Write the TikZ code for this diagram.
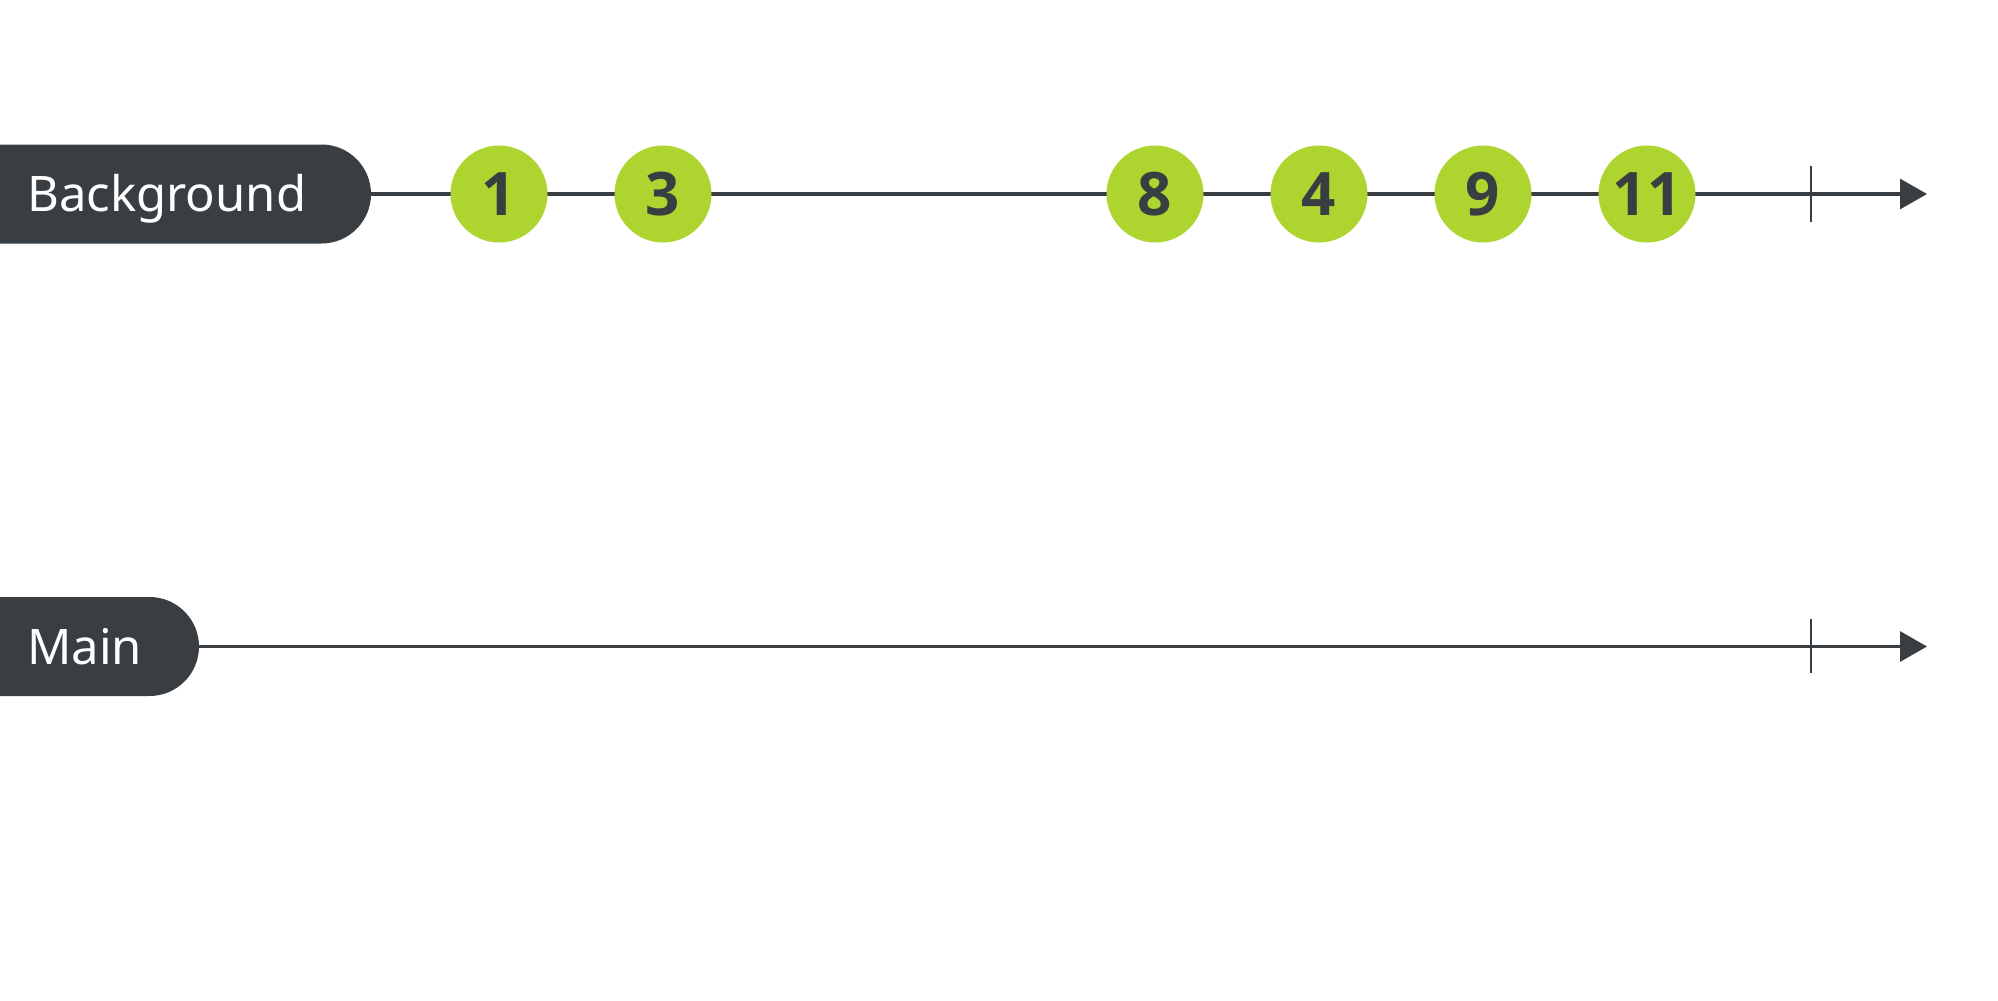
\documentclass[tikz,border=0pt]{standalone}
\usepackage{fontspec}
\setmainfont{Noto Sans}
\newfontfamily\digitfont{Open Sans}
\usetikzlibrary{arrows.meta}
\definecolor{dark}{HTML}{393E42}
\definecolor{lime}{HTML}{AED42F}
\begin{document}
\begin{tikzpicture}[x=0.5pt,y=-0.5pt,
  axis/.style={draw=dark,line width=1.6pt,-{Triangle[length=13.5pt,width=15pt]}},
  tickmark/.style={draw=dark,line width=1.4pt},
  pill/.style={fill=dark},
  lbl/.style={text=white,font=\fontsize{24.5}{28}\selectfont,inner sep=0pt,anchor=base west},
  marble/.style={circle,fill=lime,minimum size=48.5pt,inner sep=0pt,text=dark,font=\digitfont\fontsize{30}{33}\bfseries\selectfont}
]
\useasboundingbox (0,0) rectangle (1998,1001);
% Background row
\fill[pill] (-5,144.5) -- (321.5,144.5) arc(-90:90:49.5) -- (-5,243.5) -- cycle;
\node[lbl] (bglabel) at (27,211.5) {Background};
\coordinate (bgstart) at (371,194);
\coordinate (bgtip) at (1927,194);
\coordinate (bgtickT) at (1811,166);
\coordinate (bgtickB) at (1811,222);
\draw[axis] (bgstart) -- (bgtip);
\draw[tickmark] (bgtickT) -- (bgtickB);
\node[marble] (m1) at (499,194) {1};
\node[marble] (m3) at (663,194) {3};
\node[marble] (m8) at (1155,194) {8};
\node[marble] (m4) at (1319,194) {4};
\node[marble] (m9) at (1483,194) {9};
\node[marble] (m11) at (1647,194) {11};
% Main row
\fill[pill] (-5,597) -- (149.5,597) arc(-90:90:49.5) -- (-5,696) -- cycle;
\node[lbl] (mainlabel) at (27,664.5) {Main};
\coordinate (mstart) at (199,646.5);
\coordinate (mtip) at (1927,646.5);
\coordinate (mtickT) at (1811,619);
\coordinate (mtickB) at (1811,673);
\draw[axis] (mstart) -- (mtip);
\draw[tickmark] (mtickT) -- (mtickB);
\end{tikzpicture}
\end{document}
